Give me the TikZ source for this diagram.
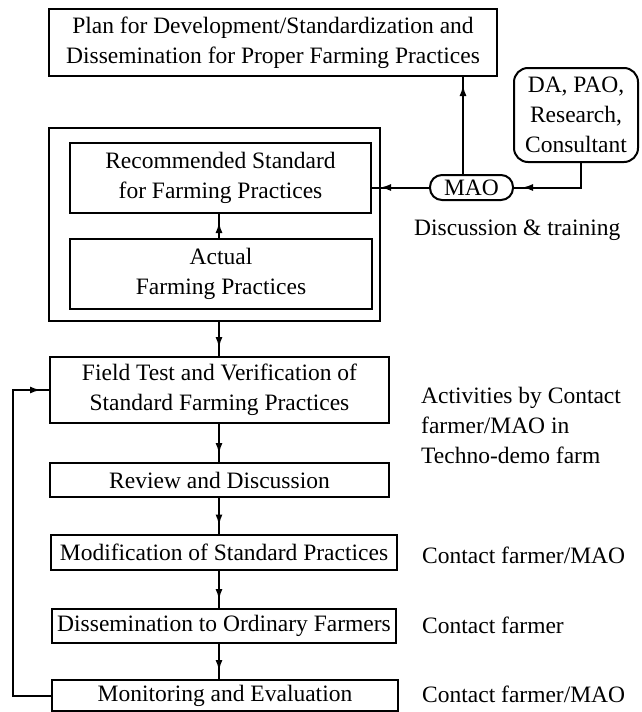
\documentclass[tikz,border=0pt]{standalone}
\usepackage{fontspec}
\setmainfont{Liberation Serif}
\usetikzlibrary{arrows.meta,decorations.markings}
\tikzset{
  box/.style={draw, line width=2pt, inner sep=0pt, align=center, font=\fontsize{23.5}{30}\selectfont},
  rbox/.style={box, rounded corners=14pt},
  lbl/.style={anchor=west, inner sep=0pt, align=left, font=\fontsize{23.5}{30}\selectfont},
  conn/.style={line width=2pt, postaction={decorate},
    decoration={markings, mark=at position -8pt with {\arrow{Latex[length=11pt,width=7pt]}}}},
}
\begin{document}
\begin{tikzpicture}[x=1pt,y=-1pt]
\useasboundingbox (0,0) rectangle (641,712);
\node[box, minimum width=448pt, minimum height=67pt] (plan) at (273,42.5)
  {Plan for Development/Standardization and\\Dissemination for Proper Farming Practices};
\node[rbox, minimum width=124pt, minimum height=94pt] (da) at (576,115)
  {DA, PAO,\\Research,\\Consultant};
\node[box, rounded corners=12pt, minimum width=83pt, minimum height=25pt] (mao) at (471.5,187.5) {MAO};
\node[lbl] (disc) at (414,230) {Discussion \& training};
\node[box, minimum width=331pt, minimum height=193pt] (outer) at (214.5,224.5) {};
\node[box, minimum width=301pt, minimum height=70pt] (rec) at (220.5,178)
  {Recommended Standard\\for Farming Practices};
\node[box, minimum width=302pt, minimum height=70pt] (act) at (221,274)
  {Actual\\Farming Practices};
\node[box, minimum width=339pt, minimum height=66pt] (field) at (219.5,390)
  {Field Test and Verification of\\Standard Farming Practices};
\node[box, minimum width=339pt, minimum height=34pt] (rev) at (219.5,480) {Review and Discussion};
\node[box, minimum width=346pt, minimum height=35pt] (mod) at (224,552) {Modification of Standard Practices};
\node[box, minimum width=344pt, minimum height=34pt] (diss) at (224,626) {Dissemination to Ordinary Farmers};
\node[box, minimum width=346pt, minimum height=31pt] (mon) at (225,695.5) {Monitoring and Evaluation};
\node[lbl] (act1) at (421,425) {Activities by Contact\\farmer/MAO in\\Techno-demo farm};
\node[lbl] (c1) at (422,555) {Contact farmer/MAO};
\node[lbl] (c2) at (422,625) {Contact farmer};
\node[lbl] (c3) at (422,694) {Contact farmer/MAO};
\coordinate (vx) at (219,0);
\coordinate (px) at (463,0);
\coordinate (dx) at (581,0);
\draw[conn] (mao.north -| px) -- (plan.south -| px);
\draw[conn] (da.south -| dx) |- (mao.east);
\draw[conn] (mao.west) -- (mao.west -| rec.east);
\draw[conn] (act.north -| vx) -- (rec.south -| vx);
\draw[conn] (outer.south -| vx) -- (field.north -| vx);
\draw[conn] (field.south -| vx) -- (rev.north -| vx);
\draw[conn] (rev.south -| vx) -- (mod.north -| vx);
\draw[conn] (mod.south -| vx) -- (diss.north -| vx);
\draw[conn] (diss.south -| vx) -- (mon.north -| vx);
\draw[conn] (mon.west) -- ++(-38,0) |- (field.west);
\end{tikzpicture}
\end{document}
